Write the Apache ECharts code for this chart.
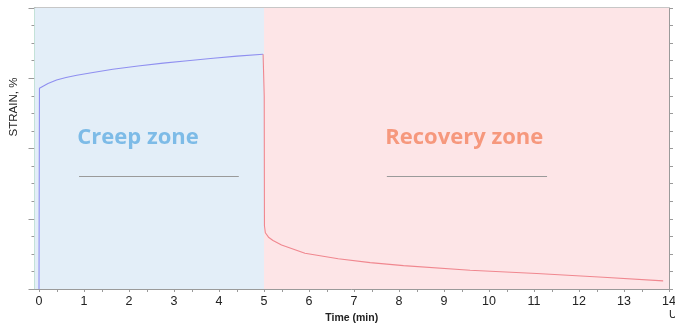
<!DOCTYPE html>
<html>
<head>
<meta charset="utf-8">
<script src="https://cdn.jsdelivr.net/npm/echarts@6/dist/echarts.min.js"></script>
<style>html,body{margin:0;padding:0;background:#fff}#c{width:675px;height:324px}</style>
</head>
<body>
<div id="c"></div>
<script>
const xTicks = [0,1,2,3,4,5,6,7,8,9,10,11,12,13,14];
const creepTime = [0, 0.01, 0.1, 0.2, 0.39, 0.6, 0.84, 1.2, 1.64, 2.2, 2.76, 3.3, 3.87, 4.4, 4.98];
const creepStrain = [0, 11.43, 11.56, 11.7, 11.9, 12.04, 12.17, 12.33, 12.51, 12.7, 12.86, 13.0, 13.14, 13.26, 13.37];
const recoveryTime = [4.98, 5.0, 5.005, 5.01, 5.03, 5.1, 5.2, 5.39, 5.91, 6.65, 7.36, 8.1, 9.58, 11.06, 12.54, 13.87];
const recoveryStrain = [13.37, 13.3, 10.97, 3.6, 3.2, 2.95, 2.76, 2.51, 2.04, 1.72, 1.5, 1.33, 1.07, 0.88, 0.67, 0.46];
const zoneNames = ['Creep zone', 'Recovery zone'];
const zoneStart = [-0.1, 5];
const zoneEnd = [5, 14];
const zoneLabelX = [2.2, 9.45];
const zoneLabelY = 8.6;
const zoneRuleStart = [0.89, 7.73];
const zoneRuleEnd = [4.44, 11.29];
const zoneRuleY = 6.43;

const zoneFill = ['#e3eef8', '#fde5e7'];
const zoneText = ['#7dbbe7', '#f6987d'];
const font = '"Liberation Sans", Arial, sans-serif';
const ruleStyle = {color: '#9a9a9a', width: 1.2, type: 'solid'};

const chart = echarts.init(document.getElementById('c'), null, {renderer: 'canvas'});
chart.setOption({
  animation: false,
  grid: {left: 34.5, right: 6, top: 8, bottom: 35, containLabel: false, outerBoundsMode: 'none'},
  xAxis: [{
    type: 'value', min: -0.1, max: 14, interval: 1,
    name: 'Time (min)', nameLocation: 'middle', nameGap: 23,
    nameTextStyle: {fontFamily: font, fontWeight: 'bold', fontSize: 10.5, color: '#222'},
    axisLine: {show: true, lineStyle: {color: '#9a9a9a', width: 1}},
    axisTick: {show: true, length: 3, lineStyle: {color: '#9a9a9a'}, customValues: xTicks},
    minorTick: {show: true, splitNumber: 2, length: 3, lineStyle: {color: '#9a9a9a'}},
    axisLabel: {fontFamily: font, fontSize: 12.5, color: '#222', margin: 6, customValues: xTicks,
      formatter: v => String(v)},
    splitLine: {show: false}
  }, {
    type: 'value', position: 'top', min: -0.1, max: 14,
    axisLine: {show: true, onZero: false, lineStyle: {color: '#b5b5b5', width: 1.5}},
    axisTick: {show: false}, axisLabel: {show: false}, splitLine: {show: false}
  }],
  yAxis: [{
    type: 'value', min: 0, max: 16, interval: 4,
    axisLine: {show: true, onZero: false, lineStyle: {color: '#86c9a0', width: 1.5}},
    axisTick: {show: true, length: 6, lineStyle: {color: '#9a9a9a'}},
    minorTick: {show: true, splitNumber: 4, length: 3, lineStyle: {color: '#9a9a9a'}},
    axisLabel: {show: false},
    splitLine: {show: false}
  }, {
    type: 'value', min: 0, max: 16, interval: 4, position: 'right',
    axisLine: {show: true, onZero: false, lineStyle: {color: '#9a9a9a', width: 1}},
    axisTick: {show: true, length: 4, lineStyle: {color: '#9a9a9a'}},
    minorTick: {show: true, splitNumber: 4, length: 4, lineStyle: {color: '#9a9a9a'}},
    axisLabel: {show: false},
    splitLine: {show: false}
  }],
  graphic: [{
    type: 'text', left: 669, top: 309,
    style: {text: 'U', fontFamily: font, fontSize: 11, fill: '#222'}
  }, {
    type: 'text', x: 14, y: 107, rotation: Math.PI / 2,
    style: {text: 'STRAIN, %', fontFamily: font, fontSize: 11.5, fill: '#222',
      align: 'center', verticalAlign: 'middle'}
  }],
  series: [
    {
      type: 'line', name: 'zones', data: [], silent: true,
      itemStyle: {color: '#9a9a9a'}, lineStyle: ruleStyle,
      markArea: {
        silent: true,
        data: zoneNames.map((n, i) => [
          {xAxis: zoneStart[i], yAxis: 0, itemStyle: {color: zoneFill[i]}},
          {xAxis: zoneEnd[i], yAxis: 16}
        ])
      },
      markLine: {
        silent: true, symbol: 'none',
        lineStyle: ruleStyle,
        label: {show: false},
        data: zoneNames.map((n, i) => [
          {coord: [zoneRuleStart[i], zoneRuleY], lineStyle: ruleStyle},
          {coord: [zoneRuleEnd[i], zoneRuleY]}
        ])
      },
      markPoint: {
        silent: true, symbol: 'circle', symbolSize: 0,
        data: zoneNames.map((n, i) => ({
          coord: [zoneLabelX[i], zoneLabelY],
          label: {show: true, position: 'inside', formatter: n,
            fontFamily: '"Open Sans", sans-serif', fontWeight: 'bold', fontSize: 22,
            color: zoneText[i]}
        }))
      }
    },
    {
      type: 'line', name: 'Creep', showSymbol: false, smooth: false,
      lineStyle: {color: '#8f8ff0', width: 1.1}, z: 5,
      data: creepTime.map((t, i) => [t, creepStrain[i]])
    },
    {
      type: 'line', name: 'Recovery', showSymbol: false, smooth: false,
      lineStyle: {color: '#f0878f', width: 1.1}, z: 5,
      data: recoveryTime.map((t, i) => [t, recoveryStrain[i]])
    }
  ]
});
</script>
</body>
</html>
